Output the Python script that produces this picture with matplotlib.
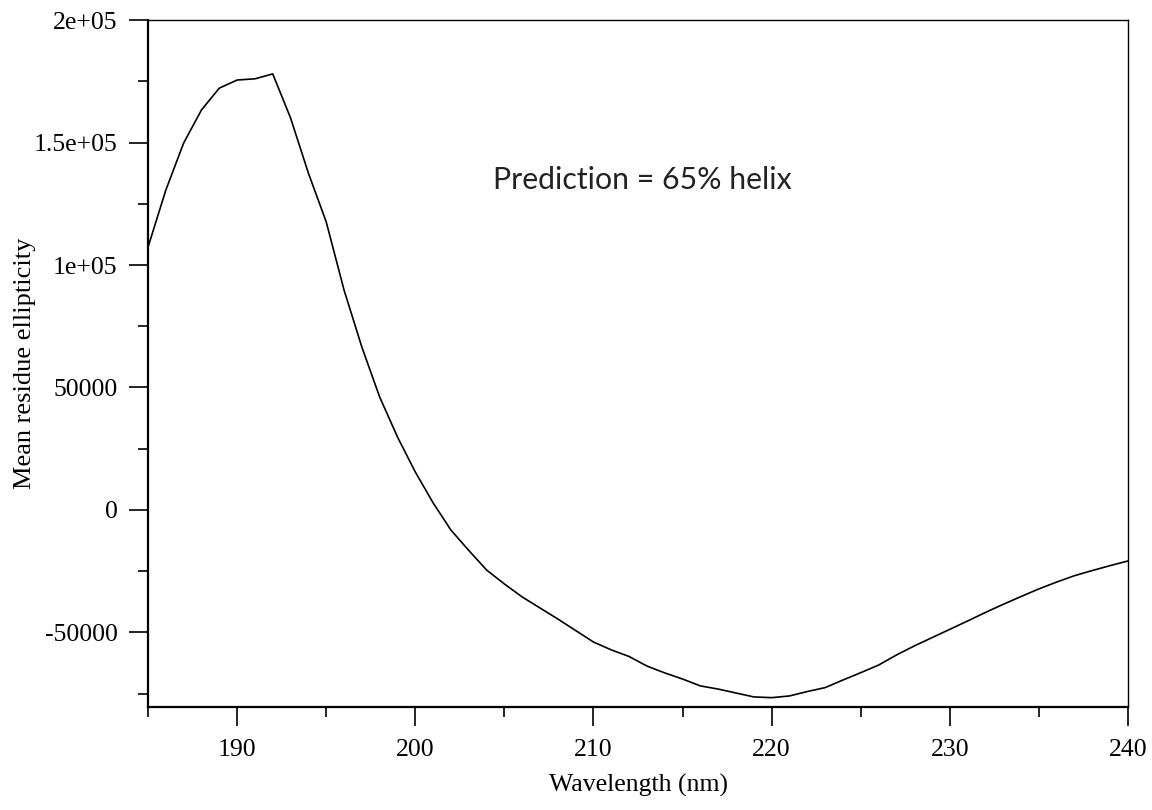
import numpy as np
import matplotlib
matplotlib.use("Agg")
import matplotlib.pyplot as plt
from matplotlib.ticker import MultipleLocator

# CD spectrum
wavelength = np.arange(185, 241)
ellipticity = [
    107300, 130600, 149800, 163300, 172200, 175500, 176000, 178000, 160000, 137500,
    117600, 89800, 66500, 46100, 29800, 15500, 2900, -8200, -16500, -24500,
    -30200, -35500, -40000, -44500, -49200, -53900, -57100, -59800, -63700, -66500,
    -69000, -71800, -73100, -74700, -76300, -76600, -75900, -74100, -72500, -69400,
    -66400, -63300, -59200, -55500, -52100, -48700, -45300, -41800, -38500, -35300,
    -32200, -29400, -26800, -24700, -22700, -20800,
]
note = "Prediction = 65% helix"

plt.rcParams['font.family'] = ['Liberation Serif', 'DejaVu Serif']

fig = plt.figure(figsize=(11.52, 8.1), dpi=100)
ax = fig.add_axes([0.1285, 0.1272, 0.8507, 0.8481])

ax.plot(wavelength, ellipticity, color='black', linewidth=1.2)

ax.set_xlim(185, 240)
ax.set_ylim(-80400, 200000)

ax.xaxis.set_major_locator(MultipleLocator(10))
ax.xaxis.set_minor_locator(MultipleLocator(5))
ax.yaxis.set_major_locator(MultipleLocator(50000))
ax.yaxis.set_minor_locator(MultipleLocator(25000))

def fmt(v, pos):
    if v == 0:
        return "0"
    if abs(v) >= 100000:
        return "%ge+05" % (v / 100000)
    return "%d" % v

ax.yaxis.set_major_formatter(plt.FuncFormatter(fmt))

ax.tick_params(which='major', direction='out', length=14, width=1.2,
               labelsize=18.5, pad=8, top=False, right=False)
ax.tick_params(which='minor', direction='out', length=7, width=1.2,
               top=False, right=False)
ax.tick_params(axis='x', which='major', pad=9)

for side in ['left', 'bottom']:
    ax.spines[side].set_linewidth(1.6)
for side in ['top', 'right']:
    ax.spines[side].set_linewidth(1.0)

ax.set_xlabel("Wavelength (nm)", fontsize=18.5, labelpad=9)
ax.set_ylabel("Mean residue ellipticity", fontsize=19)
ax.yaxis.set_label_coords(-0.114, 0.5)

ax.text(204.35, 134800, note, fontsize=21.8, va='center', ha='left',
        family=['Lato', 'DejaVu Sans'], color='#222222')

fig.savefig("out.png", dpi=100)
